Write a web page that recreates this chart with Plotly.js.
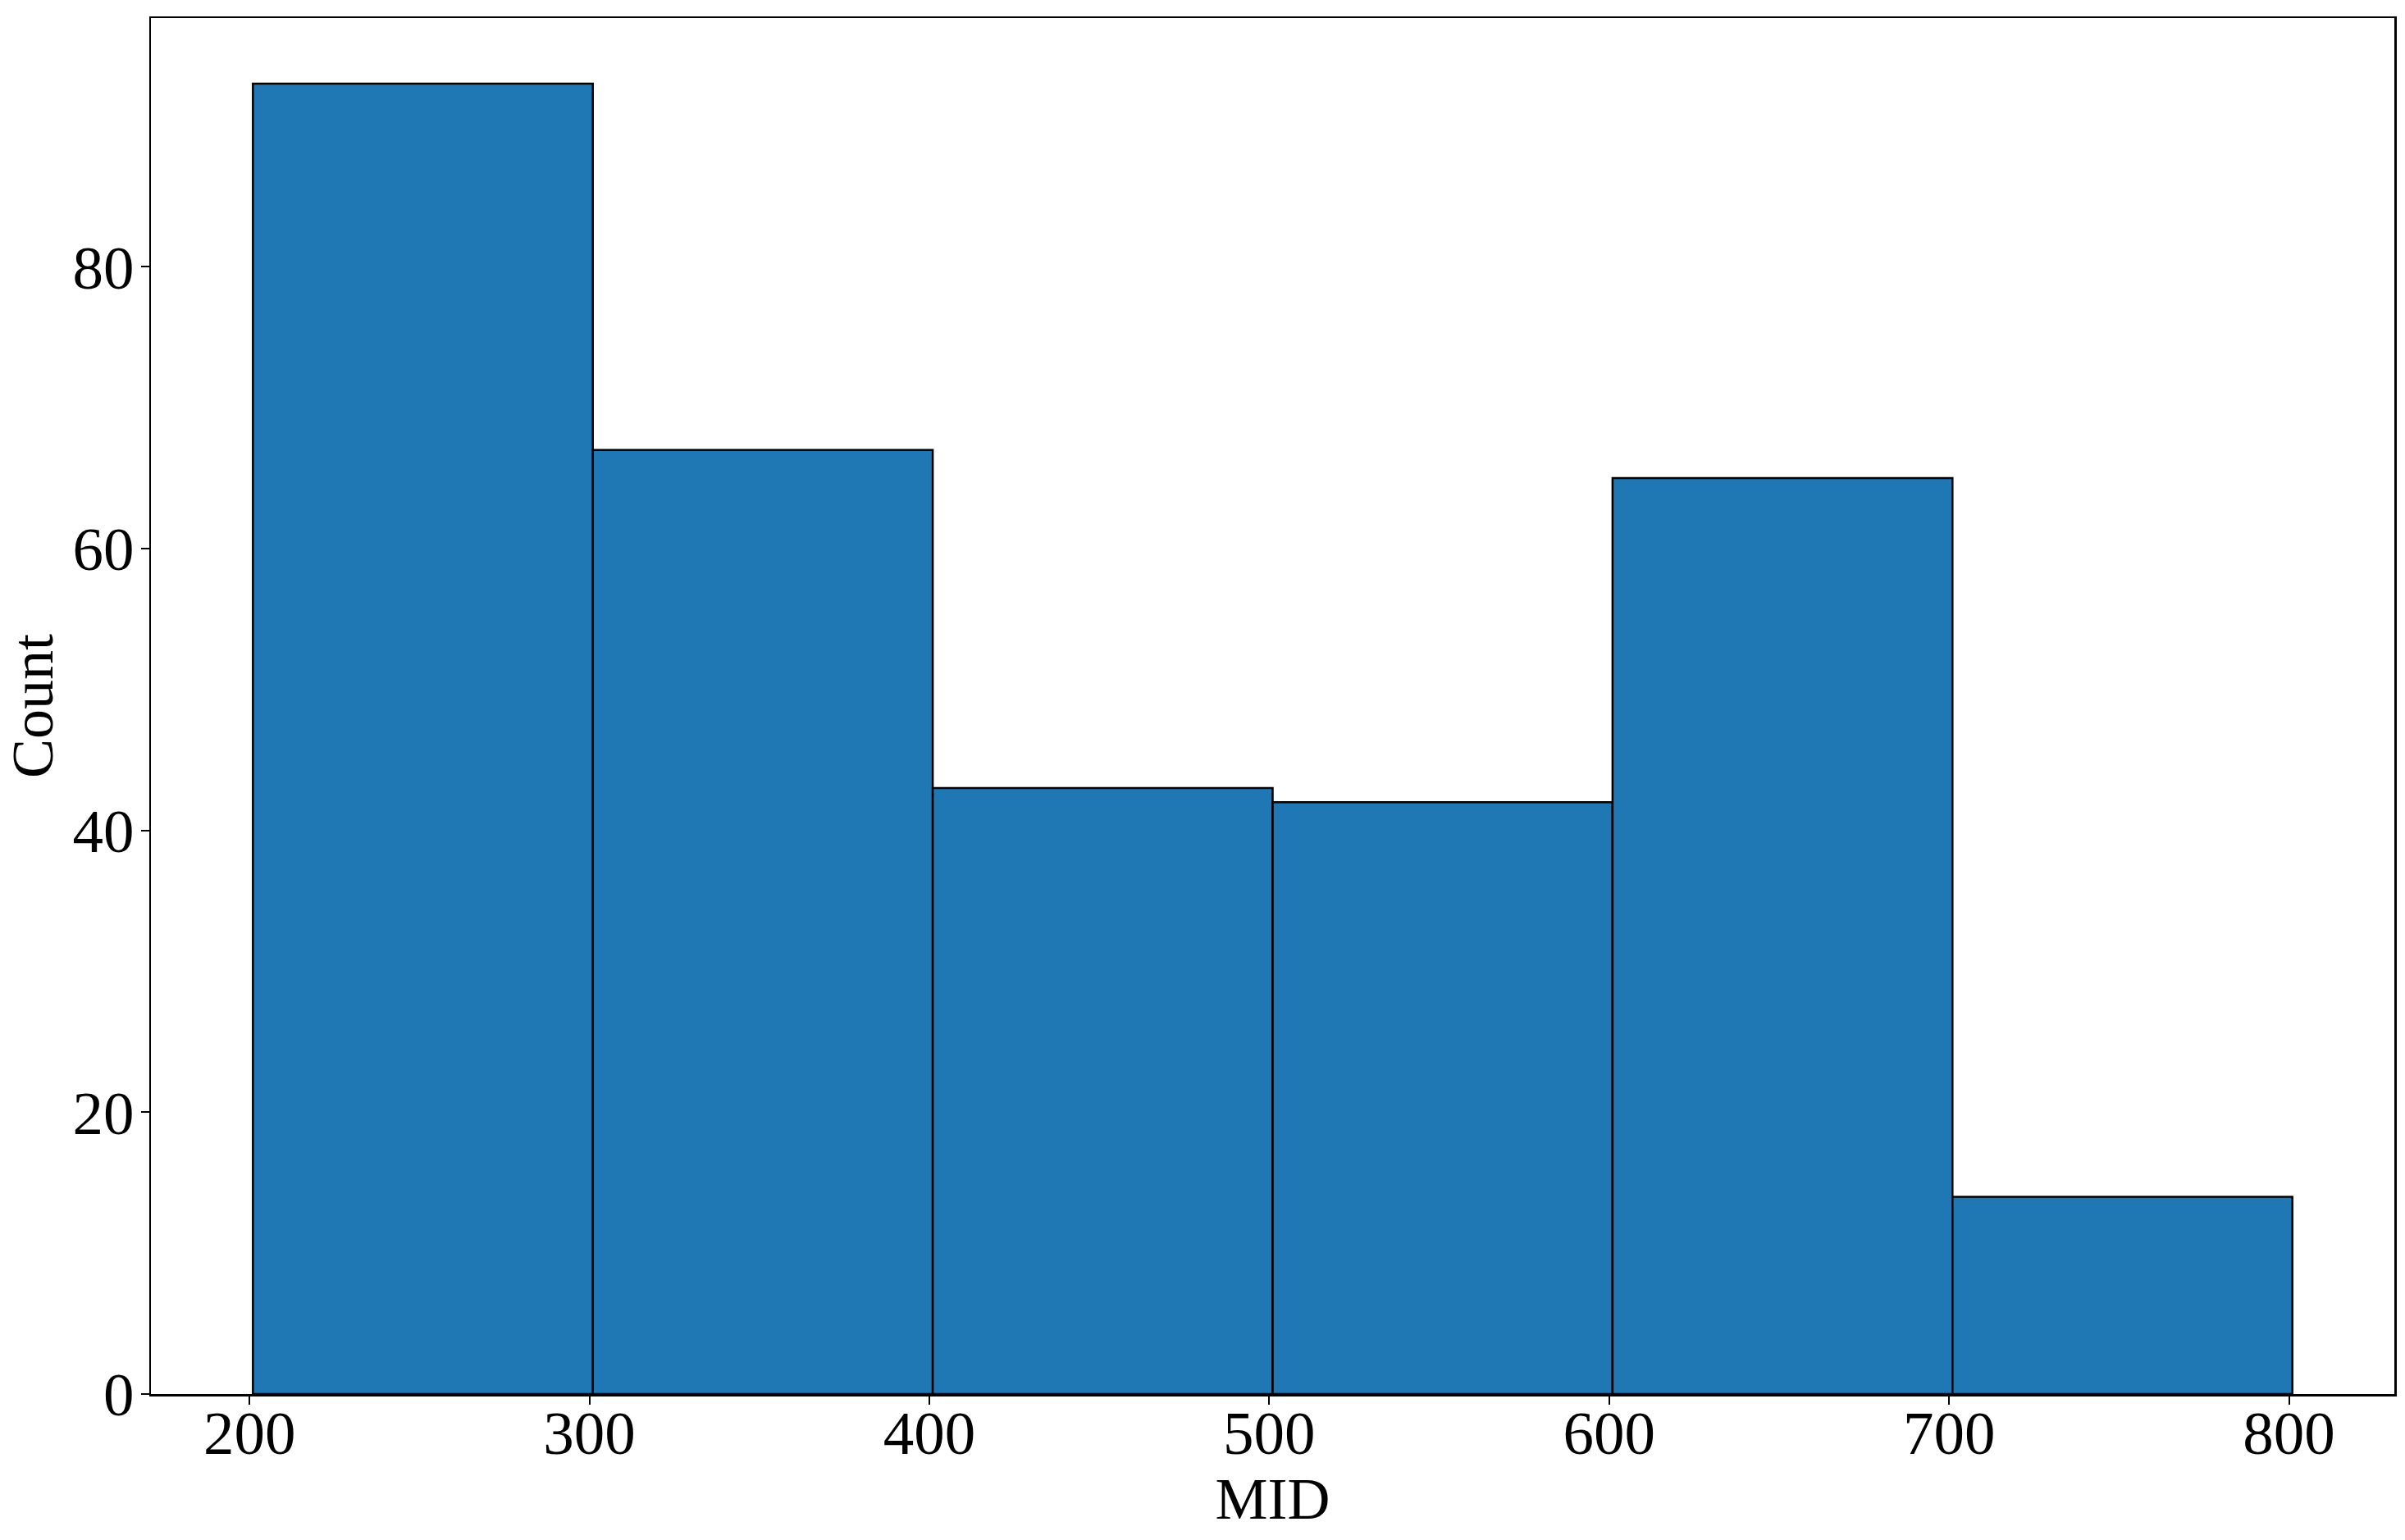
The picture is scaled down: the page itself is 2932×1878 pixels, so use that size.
<!DOCTYPE html>
<html>
<head>
<meta charset="utf-8">
<script src="https://cdn.plot.ly/plotly-3.0.1.min.js"></script>
<style>html,body{margin:0;padding:0;background:#fff;}#chart{width:2932px;height:1878px;}</style>
</head>
<body>
<div id="chart"></div>
<script>
// Histogram of MID: bin left edges, bin width and counts
const binLeft = [201, 301, 401, 501, 601, 701];
const binWidth = 100;
const counts = [93, 67, 43, 42, 65, 14];
const xTicks = [200, 300, 400, 500, 600, 700, 800];
const yTicks = [0, 20, 40, 60, 80];

const font = "'Liberation Serif', 'Times New Roman', Times, serif";

const trace = {
  type: 'bar',
  x: binLeft,
  y: counts,
  width: binLeft.map(() => binWidth),
  offset: 0,
  marker: {color: '#1f77b4', line: {color: '#000000', width: 2.5}},
  hoverinfo: 'x+y'
};

const layout = {
  width: 2932, height: 1878,
  margin: {l: 184, r: 13, t: 22, b: 178, pad: 0},
  paper_bgcolor: '#ffffff', plot_bgcolor: '#ffffff',
  showlegend: false,
  bargap: 0,
  font: {family: font, color: '#000000', size: 75},
  xaxis: {
    range: [171, 831],
    tickmode: 'array', tickvals: xTicks, ticktext: xTicks.map(String),
    ticks: 'outside', ticklen: 10, tickwidth: 2, tickcolor: '#000',
    ticklabelstandoff: -30,
    showline: true, linewidth: 2.5, linecolor: '#000', mirror: true,
    showgrid: false, zeroline: false,
    tickfont: {family: font, size: 75, color: '#000'},
    title: {text: 'MID', font: {family: font, size: 72, color: '#000'}, standoff: 10}
  },
  yaxis: {
    range: [0, 97.65],
    tickmode: 'array', tickvals: yTicks, ticktext: yTicks.map(String),
    ticks: 'outside', ticklen: 10, tickwidth: 2, tickcolor: '#000',
    ticklabelstandoff: -7,
    showline: true, linewidth: 2.5, linecolor: '#000', mirror: true,
    showgrid: false, zeroline: false,
    tickfont: {family: font, size: 75, color: '#000'},
    title: {text: 'Count', font: {family: font, size: 72, color: '#000'}, standoff: 14}
  }
};

Plotly.newPlot('chart', [trace], layout, {displayModeBar: false, staticPlot: true});
</script>
</body>
</html>
